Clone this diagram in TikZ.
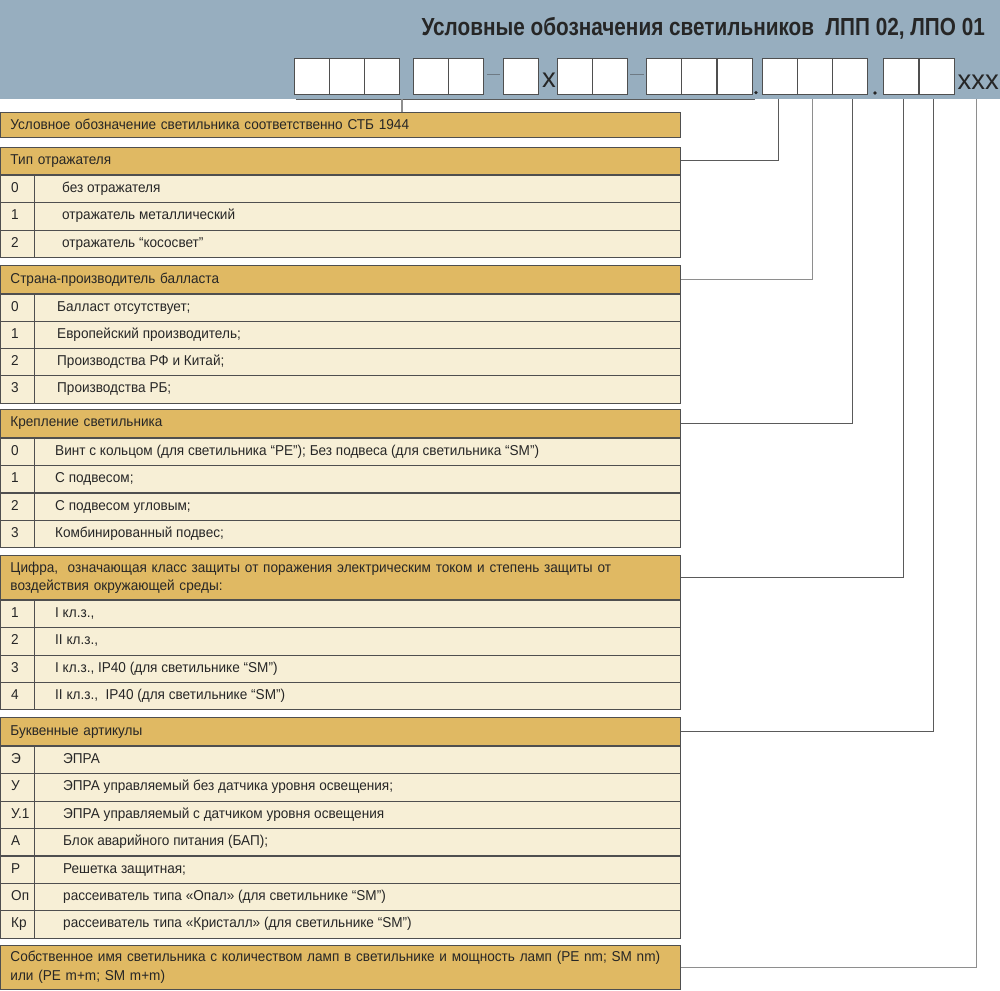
\documentclass[tikz,border=0pt]{standalone}
\usepackage{fontspec}
\setmainfont{Liberation Sans}
\newfontfamily\titlefont[FakeStretch=0.84]{Liberation Sans}
\newfontfamily\bodyfont[FakeStretch=0.95]{Liberation Sans}
\usetikzlibrary{calc}
\definecolor{bandc}{HTML}{97AEBF}
\definecolor{hdrfill}{HTML}{E0B963}
\definecolor{rowfill}{HTML}{F7EFD6}
\definecolor{linec}{HTML}{4F4F4F}
\definecolor{connc}{HTML}{5A5A5A}
\definecolor{connl}{HTML}{8E8E8E}
\definecolor{dashc}{HTML}{6E7A84}
\begin{document}
\begin{tikzpicture}[x=1pt,y=-1pt,
  every node/.style={font=\bodyfont\fontsize{14.3}{18}\selectfont, text=black!85},
  cellbox/.style={draw=linec, fill=white, line width=0.8pt, minimum width=35pt, minimum height=35.7pt, inner sep=0, anchor=north west},
  hdrbox/.style={draw=linec, fill=hdrfill, line width=0.9pt, anchor=north west, minimum width=680pt, text width=660pt, inner xsep=10pt, inner ysep=0pt, align=left},
  rowbox/.style={draw=linec, fill=rowfill, line width=0.9pt, anchor=north west, minimum width=680pt, minimum height=27.3pt, inner sep=0},
  celltxt/.style={anchor=west, inner sep=0, text height=10pt, text depth=3pt},
  conn/.style={draw=connc, line width=1pt},
  connlight/.style={draw=connl, line width=1.3pt}]
\useasboundingbox (0,0) rectangle (1000,990);
% header band
\node[fill=bandc, anchor=north west, minimum width=1000pt, minimum height=98.5pt, inner sep=0] (band) at (0,0) {};
\node[anchor=base east, inner sep=0, font=\titlefont\bfseries\fontsize{24.7}{30}\selectfont] (title) at (985,36) {Условные обозначения светильников\ \ ЛПП 02, ЛПО 01};
% code cells
\foreach \n/\x in {1a/294,1b/329.2,1c/364.3, 2a/413.3,2b/448.3, 3a/502.7, 4a/556.7,4b/591.9, 5a/646,5b/681.3,5c/716.5, 6a/761.7,6b/796.7,6c/831.7, 7a/883.3,7b/918.6}
  \node[cellbox] (c\n) at (\x,58.3) {};
\draw[dashc, line width=1.2pt] (487.3,74.3) -- (500,74.3);
\draw[dashc, line width=1.2pt] (630,74.3) -- (644,74.3);
\node[anchor=base, inner sep=0, font=\fontsize{27.5}{30}\selectfont] (xmul) at (549,87) {x};
\node[anchor=base west, inner sep=0, font=\fontsize{27.5}{30}\selectfont] (xxx) at (957.5,89) {xxx};
\fill[black!85] (756,92.6) circle (1.8pt);
\fill[black!85] (875,93) circle (1.8pt);
% box 1
\node[hdrbox, minimum height=25pt] (h1) at (0,111.7) {Условное обозначение светильника соответственно СТБ 1944};
% section 2
\node[hdrbox, minimum height=27.3pt] (h2) at (0,146.7) {Тип отражателя};
\foreach \a/\t [count=\k] in {0/{без отражателя},1/{отражатель металлический},2/{отражатель “кососвет”}}{
  \node[rowbox] (r2-\k) at ($(h2.south west)+(0,{(\k-1)*27.3})$) {};
  \node[celltxt] (n2-\k) at ($(r2-\k.west)+(11,0)$) {\a};
  \node[celltxt] (t2-\k) at ($(r2-\k.west)+(62,0)$) {\t};
}
\draw[linec, line width=0.9pt] ($(r2-1.north west)+(34,0)$) -- ($(r2-3.south west)+(34,0)$);
% section 3
\node[hdrbox, minimum height=27.7pt] (h3) at (0,265) {Страна-производитель балласта};
\foreach \a/\t [count=\k] in {0/{Балласт отсутствует;},1/{Европейский производитель;},2/{Производства РФ и Китай;},3/{Производства РБ;}}{
  \node[rowbox] (r3-\k) at ($(h3.south west)+(0,{(\k-1)*27.25})$) {};
  \node[celltxt] (n3-\k) at ($(r3-\k.west)+(11,0)$) {\a};
  \node[celltxt] (t3-\k) at ($(r3-\k.west)+(57,0)$) {\t};
}
\draw[linec, line width=0.9pt] ($(r3-1.north west)+(34,0)$) -- ($(r3-4.south west)+(34,0)$);
% section 4
\node[hdrbox, minimum height=27.4pt] (h4) at (0,409.3) {Крепление светильника};
\foreach \a/\t [count=\k] in {0/{Винт с кольцом (для светильника “PE”); Без подвеса (для светильника “SM”)},1/{С подвесом;},2/{С подвесом угловым;},3/{Комбинированный подвес;}}{
  \node[rowbox] (r4-\k) at ($(h4.south west)+(0,{(\k-1)*27.5})$) {};
  \node[celltxt] (n4-\k) at ($(r4-\k.west)+(11,0)$) {\a};
  \node[celltxt] (t4-\k) at ($(r4-\k.west)+(55,0)$) {\t};
}
\draw[linec, line width=0.9pt] ($(r4-1.north west)+(34,0)$) -- ($(r4-4.south west)+(34,0)$);
% section 5
\node[hdrbox, minimum height=44pt] (h5) at (0,555) {Цифра,\ \ означающая класс защиты от поражения электрическим током и степень защиты от\\воздействия окружающей среды:};
\foreach \a/\t [count=\k] in {1/{I кл.з.,},2/{II кл.з.,},3/{I кл.з., IP40 (для светильнике “SM”)},4/{II кл.з.,\ \ IP40 (для светильнике “SM”)}}{
  \node[rowbox] (r5-\k) at ($(h5.south west)+(0,{(\k-1)*27.3})$) {};
  \node[celltxt] (n5-\k) at ($(r5-\k.west)+(11,0)$) {\a};
  \node[celltxt] (t5-\k) at ($(r5-\k.west)+(55,0)$) {\t};
}
\draw[linec, line width=0.9pt] ($(r5-1.north west)+(34,0)$) -- ($(r5-4.south west)+(34,0)$);
% section 6
\node[hdrbox, minimum height=27.7pt] (h6) at (0,717.3) {Буквенные артикулы};
\foreach \a/\t [count=\k] in {Э/{ЭПРА},У/{ЭПРА управляемый без датчика уровня освещения;},У.1/{ЭПРА управляемый с датчиком уровня освещения},А/{Блок аварийного питания (БАП);},Р/{Решетка защитная;},Оп/{рассеиватель типа «Опал» (для светильнике “SM”)},Кр/{рассеиватель типа «Кристалл» (для светильнике “SM”)}}{
  \node[rowbox] (r6-\k) at ($(h6.south west)+(0,{(\k-1)*27.4})$) {};
  \node[celltxt] (n6-\k) at ($(r6-\k.west)+(11,0)$) {\a};
  \node[celltxt] (t6-\k) at ($(r6-\k.west)+(63,0)$) {\t};
}
\draw[linec, line width=0.9pt] ($(r6-1.north west)+(34,0)$) -- ($(r6-7.south west)+(34,0)$);
% last box
\node[hdrbox, minimum height=44.3pt, font=\bodyfont\fontsize{14.3}{19}\selectfont] (h7) at (0,945) {Собственное имя светильника с количеством ламп в светильнике и мощность ламп (PE nm; SM nm)\\или (PE m+m; SM m+m)};
% connector taps at the bottom of the band
\coordinate (bl) at (296,99.3);
\coordinate (br) at (755,99.3);
\coordinate (bt) at (402,99.3);
\coordinate (t2) at (778.3,99.3);
\coordinate (t3) at (812.3,99.3);
\coordinate (t4) at (852.7,99.3);
\coordinate (t5) at (903.3,99.3);
\coordinate (t6) at (933.3,99.3);
\coordinate (t7) at (976.7,99.3);
\draw[conn] (bl) -- (br);
\draw[connlight] (bt) -- (bt |- h1.north);
\draw[conn] (h2.east) -| (t2);
\draw[connlight] (h3.east) -| (t3);
\draw[conn] (h4.east) -| (t4);
\draw[conn] (h5.east) -| (t5);
\draw[conn] (h6.east) -| (t6);
\draw[connlight] (h7.east) -| (t7);
\end{tikzpicture}
\end{document}
